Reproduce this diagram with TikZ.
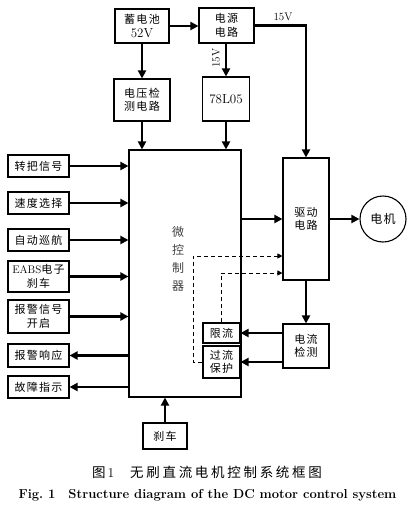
\documentclass[tikz,border=0pt]{standalone}
\usepackage{fontspec}
\usetikzlibrary{arrows.meta}
\newfontfamily\cjk[LetterSpace=12]{Noto Sans CJK SC}
\newfontfamily\cjkcap[LetterSpace=20]{Noto Sans CJK SC}
\newcommand{\zh}[1]{{\cjk #1}}
\newcommand{\lat}[1]{{\fontsize{13}{14}\selectfont #1}}

\tikzset{
  blk/.style={draw, line width=1.1pt, inner sep=1pt, align=center,
    font=\fontsize{11}{13.5}\selectfont},
  inbox/.style={blk, minimum width=61pt, minimum height=22pt},
  arr/.style={line width=2.4pt, -{Triangle[length=8pt,width=8pt]}},
  dsh/.style={line width=0.9pt, dash pattern=on 4pt off 3pt,
    -{Triangle[length=5pt,width=5pt]}},
  volt/.style={font=\fontsize{11}{12}\selectfont, inner sep=1pt}
}

\begin{document}
\begin{tikzpicture}[x=1pt,y=-1pt]
			\useasboundingbox (0,0) rectangle (411,509);
			% power side
			\node[blk, minimum width=54pt, minimum height=34pt] (bat) at (142,26) {\zh{蓄电池}\\\lat{52V}};
			\node[blk, minimum width=55pt, minimum height=35pt] (psu) at (226.5,25.5) {\zh{电源}\\\zh{电路}};
			\node[blk, minimum width=56pt, minimum height=42pt] (vdet) at (142,100) {\zh{电压检}\\\zh{测电路}};
			\node[blk, minimum width=47pt, minimum height=44pt] (reg) at (226,99) {\lat{78L05}};
			\node[volt, rotate=90] (vlow) at (216,58) {15V};
			\node[volt] (vhigh) at (283,17) {15V};
			% controller and driver
			\node[blk, minimum width=112pt, minimum height=247pt] (mcu) at (185,273.5) {};
			\node[align=center, text=black!75, font=\fontsize{12}{18}\selectfont] (mcutxt) at (178,259) {\zh{微}\\\zh{控}\\\zh{制}\\\zh{器}};
			\node[blk, minimum width=46pt, minimum height=122pt] (drv) at (306,219) {\zh{驱动}\\\zh{电路}};
			\node[draw, circle, line width=1.1pt, minimum size=46pt, inner sep=0pt,
				font=\fontsize{12}{14}\selectfont] (motor) at (383,219) {\zh{电机}};
			\node[blk, minimum width=37pt, minimum height=20pt] (lim) at (221.5,333) {\zh{限流}};
			\node[blk, minimum width=37pt, minimum height=32pt] (ocp) at (221.5,362) {\zh{过流}\\\zh{保护}};
			\node[blk, minimum width=46pt, minimum height=44pt] (cdet) at (306,346) {\zh{电流}\\\zh{检测}};
			% left column
			\node[inbox] (grip) at (38.5,166) {\zh{转把信号}};
			\node[inbox] (speed) at (38.5,203) {\zh{速度选择}};
			\node[inbox] (cruise) at (38.5,240) {\zh{自动巡航}};
			\node[inbox, minimum height=31pt] (eabs) at (38.5,276.5) {EABS\zh{电子}\\\zh{刹车}};
			\node[inbox, minimum height=33pt] (alarm) at (38.5,316.5) {\zh{报警信号}\\\zh{开启}};
			\node[inbox, minimum height=23pt] (resp) at (38.5,355.5) {\zh{报警响应}};
			\node[inbox] (fault) at (38.5,387) {\zh{故障指示}};
			\node[blk, minimum width=44pt, minimum height=26pt] (brake) at (165,436) {\zh{刹车}};
			% captions
			\node[font=\fontsize{13.5}{16}\selectfont] (capzh) at (207,472) {{\cjkcap 图}\hspace{2pt}1\hspace{16pt}{\cjkcap 无刷直流电机控制系统框图}};
			\node[font=\fontsize{13}{15}\selectfont\bfseries] (capen) at (207.5,495) {Fig.~1\quad Structure diagram of the DC motor control system};
			% connectors
			\draw[arr] (bat.east) -- (bat.east -| psu.west);
			\draw[arr] (bat.south) -- (vdet.north);
			\draw[arr] (psu.south -| reg) -- (reg.north);
			\draw[arr] (psu.east) -| (drv.north);
			\draw[arr] (vdet.south) -- (vdet.south |- mcu.north);
			\draw[arr] (reg.south) -- (reg.south |- mcu.north);
			\draw[arr] (drv.west -| mcu.east) -- (drv.west);
			\draw[arr] (drv.east) -- (motor.west);
			\draw[arr] (drv.south) -- (cdet.north);
			\draw[arr] (cdet.west |- lim) -- (lim.east);
			\draw[arr] (cdet.west |- ocp) -- (ocp.east);
			\draw[dsh] (ocp.west) -- ++(-9,0) |- ([yshift=-37pt]drv.west);
			\draw[dsh] (lim.north) |- ([yshift=-54pt]drv.west);
			\draw[arr] (grip.east) -- (grip.east -| mcu.west);
			\draw[arr] (speed.east) -- (speed.east -| mcu.west);
			\draw[arr] (cruise.east) -- (cruise.east -| mcu.west);
			\draw[arr] (eabs.east) -- (eabs.east -| mcu.west);
			\draw[arr] (alarm.east) -- (alarm.east -| mcu.west);
			\draw[arr] (resp.east -| mcu.west) -- (resp.east);
			\draw[arr] (fault.east -| mcu.west) -- (fault.east);
			\draw[arr] (brake.north) -- (brake.north |- mcu.south);
		\end{tikzpicture}
\end{document}
